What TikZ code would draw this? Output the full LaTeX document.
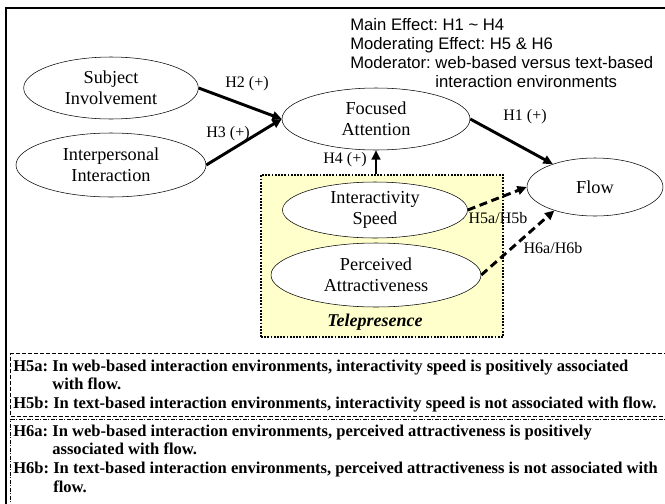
\documentclass[tikz,border=0pt]{standalone}
\usepackage{fontspec}
\setmainfont{Liberation Serif}
\newfontfamily\arialfont{Liberation Sans}
\usetikzlibrary{shapes.geometric, positioning, arrows.meta}
\definecolor{telefill}{HTML}{FFFFCC}

\begin{document}
\begin{tikzpicture}[
    x=.75pt, y=-.75pt,
    node distance = .5cm,
    cons/.style={
        draw, ellipse, fill=white, inner sep=0pt, align=center,
        font=\fontsize{13.7}{16}\selectfont
    },
    lbl/.style={
        inner sep=1pt, font=\fontsize{12}{14}\selectfont
    },
    arw/.style={
        line width=2.2pt, -{Triangle[length=7pt,width=6.5pt]}
    },
    darw/.style={
        arw, dash pattern=on 6pt off 3.5pt
    },
    tbox/.style={
        draw, rectangle, line width=1.4pt, dash pattern=on 1.4pt off 1pt, fill=telefill,
        minimum width=181.5pt, minimum height=121.5pt
    },
    hbox/.style={
        draw, rectangle, line width=.9pt, minimum width=495pt, anchor=north west
    },
    hyp/.style={
        inner sep=0pt, align=left, anchor=north west,
        font=\fontsize{12.4}{14}\selectfont\bfseries\frenchspacing
    },
]

    \useasboundingbox (0,0) rectangle (665,504);
    \clip (0,0) rectangle (665,504);
    \draw[line width=2.2pt] (665,8) -- (6,8) -- (6,504);

    \node[tbox](tele) at (382,256) {};
    \node[font=\fontsize{13.5}{15.5}\selectfont\bfseries\itshape](tlbl) at (375,322) {Telepresence};

    \node[cons, minimum width=131pt, minimum height=46.5pt](si) at (111,88) {Subject\\Involvement};
    \node[cons, minimum width=142.5pt, minimum height=48pt](ii) at (111,165) {Interpersonal\\Interaction};
    \node[cons, minimum width=141pt, minimum height=46.5pt](fa) at (376,119) {Focused\\Attention};
    \node[cons, minimum width=102pt, minimum height=43.5pt](flow) at (595,187) {Flow};
    \node[cons, minimum width=138.75pt, minimum height=42pt](is) at (375,210) {Interactivity\\Speed};
    \node[cons, minimum width=157.5pt, minimum height=48pt](pa) at (376,275) {Perceived\\Attractiveness};

    \draw[arw] (si.east) to (fa.west);
    \draw[arw] (ii.east) to (fa.west);
    \draw[arw] (fa.east) to (flow);
    \draw[arw] (fa.south |- tele.north) to (fa.south);
    \draw[darw] (is.east) to (flow.west);
    \draw[darw] (pa.east) to (flow.210);

    \node[lbl](h2) at (247,84) {H2 (+)};
    \node[lbl](h3) at (228,134) {H3 (+)};
    \node[lbl](h1) at (525,117) {H1 (+)};
    \node[lbl](h4) at (345,160) {H4 (+)};
    \node[lbl](h5) at (498,218) {H5a/H5b};
    \node[lbl](h6) at (553,248) {H6a/H6b};

    \node[anchor=north west, align=left, inner sep=0pt,
        font=\arialfont\fontsize{12.5}{14.2}\selectfont\frenchspacing](note) at (350,18) {
        Main Effect: H1 \textasciitilde\ H4\\
        Moderating Effect: H5 \& H6\\
        Moderator: web-based versus text-based\\
        \phantom{Moderator:}\ interaction environments
    };

    \node[hbox, dash pattern=on 3pt off 1.5pt, minimum height=47.25pt](b5) at (10,353) {};
    \node[hbox, dash pattern=on 3pt off 1pt on 1pt off 1pt, minimum height=75pt](b6) at (10,419) {};
    \node[hyp, below right=4.8pt and 2.3pt of b5.north west](t5) {
        H5a: In web-based interaction environments, interactivity speed is positively associated\\
        \phantom{H5a:}\ with flow.\\
        H5b: In text-based interaction environments, interactivity speed is not associated with flow.
    };
    \node[hyp, below right=4pt and 2.3pt of b6.north west](t6) {
        H6a: In web-based interaction environments, perceived attractiveness is positively\\
        \phantom{H6a:}\ associated with flow.\\
        H6b: In text-based interaction environments, perceived attractiveness is not associated with\\
        \phantom{H6b:}\ flow.
    };

\end{tikzpicture}
\end{document}
